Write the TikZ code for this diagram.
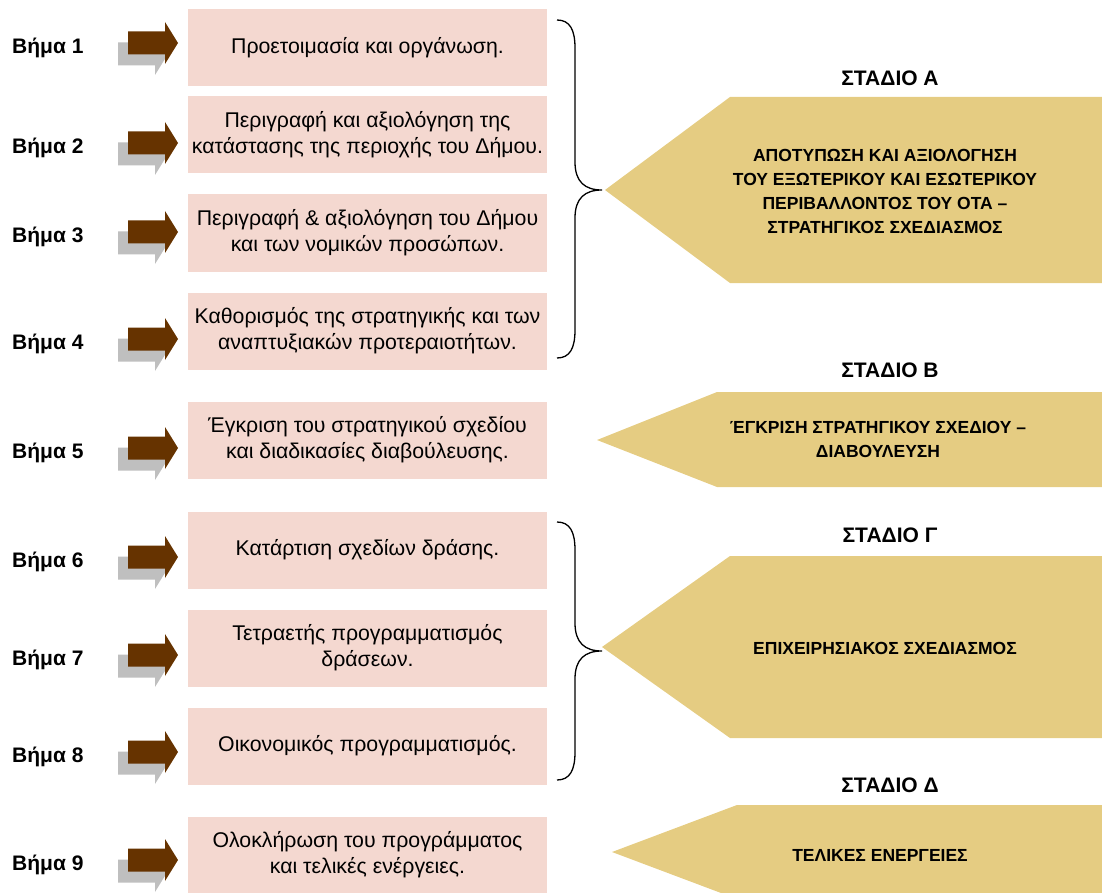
\documentclass[tikz,border=0pt]{standalone}
\usepackage{fontspec}
\setmainfont{Liberation Sans}
\definecolor{boxpink}{RGB}{244,216,208}
\definecolor{stagegold}{RGB}{229,204,130}
\definecolor{arrbrown}{RGB}{102,51,0}
\definecolor{arrgray}{RGB}{191,191,191}
\tikzset{
	stepbox/.style={fill=boxpink, minimum width=359pt, minimum height=77pt, inner sep=0pt, align=center, font=\fontsize{21.3}{26}\selectfont},
	steplabel/.style={anchor=west, inner sep=0pt, font=\bfseries\fontsize{21}{24}\selectfont},
	stagetitle/.style={font=\bfseries\fontsize{21}{24}\selectfont},
	stagetext/.style={align=center, font=\bfseries\fontsize{17.5}{24}\selectfont},
	sg/.style={fill=stagegold},
	br/.style={fill=arrbrown},
	gr/.style={fill=arrgray},
	brc/.style={draw=black, line width=1.3pt},
}
% arrow: left end x, mid y, style
\newcommand{\steparrow}[3]{%
	\fill[#3] ({#1},{#2-11.5}) -- ({#1+37},{#2-11.5}) -- ({#1+37},{#2-21}) -- ({#1+50},{#2})
		-- ({#1+37},{#2+21}) -- ({#1+37},{#2+11.5}) -- ({#1},{#2+11.5}) -- cycle;
}
% brace: top y, tip y, bottom y
\newcommand{\stagebrace}[3]{%
	\draw[brc] (557,#1) .. controls (570,#1) and (575,{#1+10}) .. (575,{#1+28})
		-- (575,{#2-28}) .. controls (575,{#2-8}) and (585,#2) .. (602,#2)
		.. controls (585,#2) and (575,{#2+8}) .. (575,{#2+28})
		-- (575,{#3-28}) .. controls (575,{#3-10}) and (570,#3) .. (557,#3);
}

\begin{document}
\begin{tikzpicture}[x=1pt, y=-1pt]
	\clip (0,0) rectangle (1102,893);

	% steps
	\foreach \n/\by/\ly/\txt in {
		1/48/48/{Προετοιμασία και οργάνωση.},
		2/135/148/{Περιγραφή και αξιολόγηση της\\κατάστασης της περιοχής του Δήμου.},
		3/233/237/{Περιγραφή \& αξιολόγηση του Δήμου\\και των νομικών προσώπων.},
		4/331/344/{Καθορισμός της στρατηγικής και των\\αναπτυξιακών προτεραιοτήτων.},
		5/440/453/{Έγκριση του στρατηγικού σχεδίου\\και διαδικασίες διαβούλευσης.},
		6/550/562/{Κατάρτιση σχεδίων δράσης.},
		7/648/660/{Τετραετής προγραμματισμός\\δράσεων.},
		8/746/757/{Οικονομικός προγραμματισμός.},
		9/855/865/{Ολοκλήρωση του προγράμματος\\και τελικές ενέργειες.}}{
		\node[stepbox] (box\n) at (367.5,\by) {\txt};
		\node[steplabel] (lbl\n) at (12,\ly) {Βήμα \n};
		\steparrow{118}{\ly+6}{gr}
		\steparrow{128}{\ly-5}{br}
	}

	% braces
	\stagebrace{20}{190}{358}
	\stagebrace{522}{651}{780}

	% stages
	\fill[sg] (605,190) -- (730,97) -- (1102,97) -- (1102,283) -- (730,283) -- cycle;
	\fill[sg] (597,440) -- (717,392) -- (1102,392) -- (1102,487) -- (717,487) -- cycle;
	\fill[sg] (602,647) -- (730,556) -- (1102,556) -- (1102,738) -- (730,738) -- cycle;
	\fill[sg] (612,852) -- (737,805) -- (1102,805) -- (1102,899) -- (737,899) -- cycle;

	\node[stagetitle] (titA) at (890,78) {ΣΤΑΔΙΟ Α};
	\node[stagetitle] (titB) at (890,370) {ΣΤΑΔΙΟ Β};
	\node[stagetitle] (titC) at (890,535) {ΣΤΑΔΙΟ Γ};
	\node[stagetitle] (titD) at (890,785) {ΣΤΑΔΙΟ Δ};

	\node[stagetext] (stA) at (885,191) {ΑΠΟΤΥΠΩΣΗ ΚΑΙ ΑΞΙΟΛΟΓΗΣΗ\\ΤΟΥ ΕΞΩΤΕΡΙΚΟΥ ΚΑΙ ΕΣΩΤΕΡΙΚΟΥ\\ΠΕΡΙΒΑΛΛΟΝΤΟΣ ΤΟΥ ΟΤΑ –\\ΣΤΡΑΤΗΓΙΚΟΣ ΣΧΕΔΙΑΣΜΟΣ};
	\node[stagetext] (stB) at (878,439) {ΈΓΚΡΙΣΗ ΣΤΡΑΤΗΓΙΚΟΥ ΣΧΕΔΙΟΥ –\\ΔΙΑΒΟΥΛΕΥΣΗ};
	\node[stagetext] (stC) at (885,648) {ΕΠΙΧΕΙΡΗΣΙΑΚΟΣ ΣΧΕΔΙΑΣΜΟΣ};
	\node[stagetext] (stD) at (880,855) {ΤΕΛΙΚΕΣ ΕΝΕΡΓΕΙΕΣ};
\end{tikzpicture}
\end{document}
